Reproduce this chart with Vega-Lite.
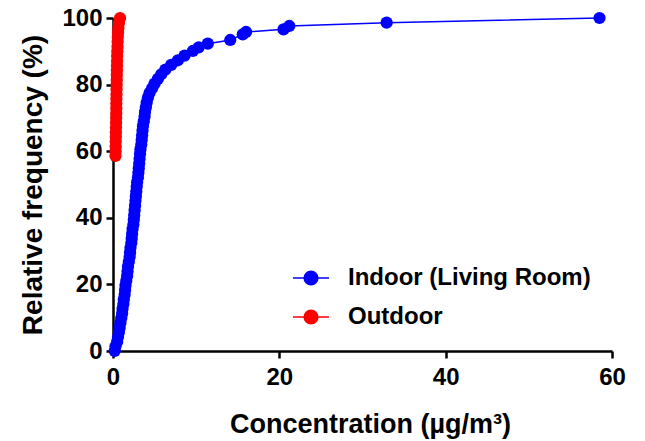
{
  "$schema": "https://vega.github.io/schema/vega-lite/v6.json",
  "autosize": {"type": "none"},
  "width": 499,
  "height": 333,
  "padding": {"left": 113, "top": 18, "right": 33, "bottom": 90},
  "background": "white",
  "config": {
    "view": {"stroke": null},
    "font": "Liberation Sans",
    "axis": {
      "grid": false,
      "domainColor": "black",
      "domainWidth": 2.5,
      "tickColor": "black",
      "tickWidth": 2.5,
      "tickSize": 7,
      "labelColor": "black",
      "labelFont": "Liberation Sans",
      "labelFontWeight": "bold",
      "labelFontSize": 24,
      "labelFlush": false,
      "titleColor": "black",
      "titleFont": "Liberation Sans",
      "titleFontWeight": "bold",
      "titleFontSize": 27
    }
  },
  "data": {
    "values": [
      {"series": "Indoor (Living Room)", "conc": 0.2, "freq": 0},
      {"series": "Indoor (Living Room)", "conc": 0.3, "freq": 1.4},
      {"series": "Indoor (Living Room)", "conc": 0.5, "freq": 2.8},
      {"series": "Indoor (Living Room)", "conc": 0.6, "freq": 4.2},
      {"series": "Indoor (Living Room)", "conc": 0.7, "freq": 5.6},
      {"series": "Indoor (Living Room)", "conc": 0.8, "freq": 7.0},
      {"series": "Indoor (Living Room)", "conc": 0.9, "freq": 8.5},
      {"series": "Indoor (Living Room)", "conc": 1.0, "freq": 9.9},
      {"series": "Indoor (Living Room)", "conc": 1.1, "freq": 11.3},
      {"series": "Indoor (Living Room)", "conc": 1.15, "freq": 12.7},
      {"series": "Indoor (Living Room)", "conc": 1.25, "freq": 14.1},
      {"series": "Indoor (Living Room)", "conc": 1.3, "freq": 15.5},
      {"series": "Indoor (Living Room)", "conc": 1.4, "freq": 16.9},
      {"series": "Indoor (Living Room)", "conc": 1.45, "freq": 18.3},
      {"series": "Indoor (Living Room)", "conc": 1.5, "freq": 19.7},
      {"series": "Indoor (Living Room)", "conc": 1.6, "freq": 21.1},
      {"series": "Indoor (Living Room)", "conc": 1.7, "freq": 22.5},
      {"series": "Indoor (Living Room)", "conc": 1.75, "freq": 23.9},
      {"series": "Indoor (Living Room)", "conc": 1.8, "freq": 25.4},
      {"series": "Indoor (Living Room)", "conc": 1.9, "freq": 26.8},
      {"series": "Indoor (Living Room)", "conc": 2.0, "freq": 28.2},
      {"series": "Indoor (Living Room)", "conc": 2.05, "freq": 29.6},
      {"series": "Indoor (Living Room)", "conc": 2.1, "freq": 31.0},
      {"series": "Indoor (Living Room)", "conc": 2.2, "freq": 32.4},
      {"series": "Indoor (Living Room)", "conc": 2.25, "freq": 33.8},
      {"series": "Indoor (Living Room)", "conc": 2.3, "freq": 35.2},
      {"series": "Indoor (Living Room)", "conc": 2.35, "freq": 36.6},
      {"series": "Indoor (Living Room)", "conc": 2.45, "freq": 38.0},
      {"series": "Indoor (Living Room)", "conc": 2.5, "freq": 39.4},
      {"series": "Indoor (Living Room)", "conc": 2.55, "freq": 40.8},
      {"series": "Indoor (Living Room)", "conc": 2.6, "freq": 42.3},
      {"series": "Indoor (Living Room)", "conc": 2.65, "freq": 43.7},
      {"series": "Indoor (Living Room)", "conc": 2.7, "freq": 45.1},
      {"series": "Indoor (Living Room)", "conc": 2.75, "freq": 46.5},
      {"series": "Indoor (Living Room)", "conc": 2.8, "freq": 47.9},
      {"series": "Indoor (Living Room)", "conc": 2.85, "freq": 49.3},
      {"series": "Indoor (Living Room)", "conc": 2.9, "freq": 50.7},
      {"series": "Indoor (Living Room)", "conc": 3.0, "freq": 52.1},
      {"series": "Indoor (Living Room)", "conc": 3.05, "freq": 53.5},
      {"series": "Indoor (Living Room)", "conc": 3.1, "freq": 54.9},
      {"series": "Indoor (Living Room)", "conc": 3.15, "freq": 56.3},
      {"series": "Indoor (Living Room)", "conc": 3.2, "freq": 57.7},
      {"series": "Indoor (Living Room)", "conc": 3.25, "freq": 59.2},
      {"series": "Indoor (Living Room)", "conc": 3.3, "freq": 60.6},
      {"series": "Indoor (Living Room)", "conc": 3.4, "freq": 62.0},
      {"series": "Indoor (Living Room)", "conc": 3.45, "freq": 63.4},
      {"series": "Indoor (Living Room)", "conc": 3.5, "freq": 64.8},
      {"series": "Indoor (Living Room)", "conc": 3.55, "freq": 66.2},
      {"series": "Indoor (Living Room)", "conc": 3.6, "freq": 67.6},
      {"series": "Indoor (Living Room)", "conc": 3.7, "freq": 69.0},
      {"series": "Indoor (Living Room)", "conc": 3.8, "freq": 70.4},
      {"series": "Indoor (Living Room)", "conc": 3.85, "freq": 71.8},
      {"series": "Indoor (Living Room)", "conc": 3.95, "freq": 73.2},
      {"series": "Indoor (Living Room)", "conc": 4.05, "freq": 74.6},
      {"series": "Indoor (Living Room)", "conc": 4.2, "freq": 76.1},
      {"series": "Indoor (Living Room)", "conc": 4.4, "freq": 77.5},
      {"series": "Indoor (Living Room)", "conc": 4.7, "freq": 78.9},
      {"series": "Indoor (Living Room)", "conc": 5.0, "freq": 80.3},
      {"series": "Indoor (Living Room)", "conc": 5.4, "freq": 81.7},
      {"series": "Indoor (Living Room)", "conc": 5.8, "freq": 83.1},
      {"series": "Indoor (Living Room)", "conc": 6.3, "freq": 84.5},
      {"series": "Indoor (Living Room)", "conc": 7.0, "freq": 85.9},
      {"series": "Indoor (Living Room)", "conc": 7.8, "freq": 87.3},
      {"series": "Indoor (Living Room)", "conc": 8.6, "freq": 88.7},
      {"series": "Indoor (Living Room)", "conc": 9.6, "freq": 90.1},
      {"series": "Indoor (Living Room)", "conc": 10.3, "freq": 91.2},
      {"series": "Indoor (Living Room)", "conc": 11.4, "freq": 92.3},
      {"series": "Indoor (Living Room)", "conc": 14.1, "freq": 93.4},
      {"series": "Indoor (Living Room)", "conc": 15.6, "freq": 95.1},
      {"series": "Indoor (Living Room)", "conc": 16.0, "freq": 95.8},
      {"series": "Indoor (Living Room)", "conc": 20.5, "freq": 96.6},
      {"series": "Indoor (Living Room)", "conc": 21.2, "freq": 97.6},
      {"series": "Indoor (Living Room)", "conc": 32.9, "freq": 98.6},
      {"series": "Indoor (Living Room)", "conc": 58.5, "freq": 100},
      {"series": "Outdoor", "conc": 0.30, "freq": 58.6},
      {"series": "Outdoor", "conc": 0.31, "freq": 60.0},
      {"series": "Outdoor", "conc": 0.32, "freq": 61.4},
      {"series": "Outdoor", "conc": 0.33, "freq": 62.9},
      {"series": "Outdoor", "conc": 0.34, "freq": 64.3},
      {"series": "Outdoor", "conc": 0.35, "freq": 65.7},
      {"series": "Outdoor", "conc": 0.36, "freq": 67.1},
      {"series": "Outdoor", "conc": 0.37, "freq": 68.6},
      {"series": "Outdoor", "conc": 0.38, "freq": 70.0},
      {"series": "Outdoor", "conc": 0.39, "freq": 71.4},
      {"series": "Outdoor", "conc": 0.40, "freq": 72.9},
      {"series": "Outdoor", "conc": 0.40, "freq": 74.3},
      {"series": "Outdoor", "conc": 0.41, "freq": 75.7},
      {"series": "Outdoor", "conc": 0.42, "freq": 77.1},
      {"series": "Outdoor", "conc": 0.43, "freq": 78.6},
      {"series": "Outdoor", "conc": 0.44, "freq": 80.0},
      {"series": "Outdoor", "conc": 0.45, "freq": 81.4},
      {"series": "Outdoor", "conc": 0.46, "freq": 82.9},
      {"series": "Outdoor", "conc": 0.47, "freq": 84.3},
      {"series": "Outdoor", "conc": 0.48, "freq": 85.7},
      {"series": "Outdoor", "conc": 0.49, "freq": 87.1},
      {"series": "Outdoor", "conc": 0.50, "freq": 88.6},
      {"series": "Outdoor", "conc": 0.52, "freq": 90.0},
      {"series": "Outdoor", "conc": 0.54, "freq": 91.4},
      {"series": "Outdoor", "conc": 0.56, "freq": 92.9},
      {"series": "Outdoor", "conc": 0.58, "freq": 94.3},
      {"series": "Outdoor", "conc": 0.61, "freq": 95.7},
      {"series": "Outdoor", "conc": 0.65, "freq": 97.1},
      {"series": "Outdoor", "conc": 0.72, "freq": 98.6},
      {"series": "Outdoor", "conc": 0.85, "freq": 100}
    ]
  },
  "encoding": {
    "x": {
      "field": "conc",
      "type": "quantitative",
      "scale": {"domain": [0, 60], "nice": false, "zero": false},
      "axis": {"values": [0, 20, 40, 60], "title": "Concentration (µg/m³)", "labelPadding": 7, "titlePadding": 22, "titleX": 257}
    },
    "y": {
      "field": "freq",
      "type": "quantitative",
      "scale": {"domain": [0, 100], "nice": false},
      "axis": {"values": [0, 20, 40, 60, 80, 100], "title": "Relative frequency (%)", "titleFontSize": 28, "labelPadding": 4, "titlePadding": 14}
    },
    "color": {
      "field": "series",
      "type": "nominal",
      "scale": {"domain": ["Indoor (Living Room)", "Outdoor"], "range": ["#0000ff", "#ff0000"]},
      "legend": {
        "orient": "none",
        "legendX": 179,
        "legendY": 241,
        "title": null,
        "padding": 0,
        "symbolType": "M-1,0H1M-0.38,0A0.38,0.38 0 1,0 0.38,0A0.38,0.38 0 1,0 -0.38,0Z",
        "symbolSize": 1296,
        "symbolStrokeWidth": 1.5,
        "labelFont": "Liberation Sans",
        "labelFontWeight": "bold",
        "labelFontSize": 24,
        "labelColor": "black",
        "labelLimit": 400,
        "labelOffset": 18,
        "rowPadding": 8,
        "encode": {
          "symbols": {
            "update": {
              "fill": {"scale": "color", "field": "value"},
              "stroke": {"scale": "color", "field": "value"},
              "opacity": {"value": 1}
            }
          }
        }
      }
    }
  },
  "layer": [
    {"mark": {"type": "line", "strokeWidth": 1.5, "clip": false}},
    {"mark": {"type": "point", "filled": true, "size": 150, "opacity": 1, "clip": false}}
  ]
}
